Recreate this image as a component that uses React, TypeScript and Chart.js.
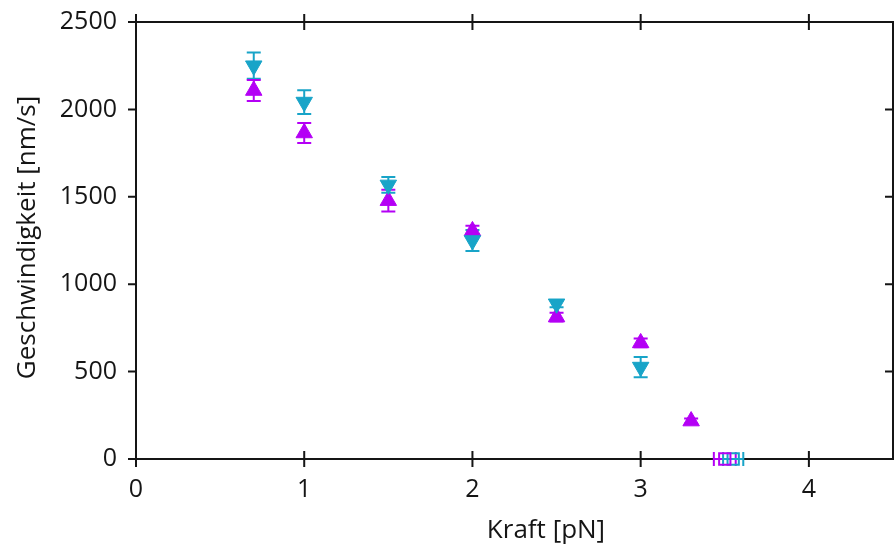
import React, { useEffect, useRef } from "react";
import { Chart, registerables } from "chart.js";

Chart.register(...registerables);

// ---- data ----
const cyanX = [0.7, 1.0, 1.5, 2.0, 2.5, 3.0];
const cyanY = [2250, 2042, 1568, 1250, 888, 526];
const cyanErr = [75, 68, 45, 60, 20, 58];

const magentaX = [0.7, 1.0, 1.5, 2.0, 2.5, 3.0, 3.3];
const magentaY = [2108, 1865, 1478, 1305, 812, 664, 217];
const magentaErr = [60, 57, 62, 30, 25, 25, 15];

const magentaStallX = [3.5];
const magentaStallY = [0];
const magentaStallXErr = [0.065];

const cyanStallX = [3.55];
const cyanStallY = [0];
const cyanStallXErr = [0.06];

const xTicks = [0, 1, 2, 3, 4];
const yTicks = [0, 500, 1000, 1500, 2000, 2500];

const xTitle = "Kraft [pN]";
const yTitle = "Geschwindigkeit [nm/s]";

const CYAN = "#18a4c8";
const MAGENTA = "#b400f5";
const AXIS = "#151515";
const FONT = "'Open Sans', 'Noto Sans', sans-serif";

const errorBarPlugin = {
  id: "errorBars",
  beforeDatasetsDraw(chart: any) {
    const ctx = chart.ctx;
    const xs = chart.scales.x;
    const ys = chart.scales.y;
    ctx.save();
    chart.data.datasets.forEach((ds: any) => {
      ctx.strokeStyle = ds.borderColor;
      ctx.lineWidth = 2;
      ds.data.forEach((p: any, i: number) => {
        if (ds.yErr) {
          const e = ds.yErr[i];
          const px = xs.getPixelForValue(p.x);
          const y1 = ys.getPixelForValue(p.y - e);
          const y2 = ys.getPixelForValue(p.y + e);
          const cw = 7;
          ctx.beginPath();
          ctx.moveTo(px, y1);
          ctx.lineTo(px, y2);
          ctx.moveTo(px - cw, y1);
          ctx.lineTo(px + cw, y1);
          ctx.moveTo(px - cw, y2);
          ctx.lineTo(px + cw, y2);
          ctx.stroke();
        }
        if (ds.xErr) {
          const e = ds.xErr[i];
          const py = ys.getPixelForValue(p.y);
          const x1 = xs.getPixelForValue(p.x - e);
          const x2 = xs.getPixelForValue(p.x + e);
          const ch = 7;
          ctx.beginPath();
          ctx.moveTo(x1, py);
          ctx.lineTo(x2, py);
          ctx.moveTo(x1, py - ch);
          ctx.lineTo(x1, py + ch);
          ctx.moveTo(x2, py - ch);
          ctx.lineTo(x2, py + ch);
          ctx.stroke();
        }
      });
    });
    ctx.restore();
  },
};

const framePlugin = {
  id: "frame",
  beforeDatasetsDraw(chart: any) {
    const { ctx, chartArea } = chart;
    const xs = chart.scales.x;
    const ys = chart.scales.y;
    const { left, right, top, bottom } = chartArea;
    ctx.save();
    ctx.strokeStyle = AXIS;
    ctx.lineWidth = 2;
    ctx.strokeRect(left, top, right - left, bottom - top);
    ctx.beginPath();
    const t = 8;
    xTicks.forEach((v) => {
      const px = xs.getPixelForValue(v);
      ctx.moveTo(px, bottom - t);
      ctx.lineTo(px, bottom + t);
      ctx.moveTo(px, top - t);
      ctx.lineTo(px, top + t);
    });
    yTicks.forEach((v) => {
      const py = ys.getPixelForValue(v);
      ctx.moveTo(left - t, py);
      ctx.lineTo(left, py);
      ctx.moveTo(right - t, py);
      ctx.lineTo(right, py);
    });
    ctx.stroke();
    ctx.restore();
  },
  afterDraw(chart: any) {
    const { ctx, chartArea } = chart;
    ctx.save();
    ctx.fillStyle = AXIS;
    ctx.font = `26px ${FONT}`;
    ctx.textAlign = "center";
    ctx.textBaseline = "alphabetic";
    ctx.fillText(xTitle, chartArea.left + 410, chartArea.bottom + 79);
    ctx.translate(chartArea.left - 101, (chartArea.top + chartArea.bottom) / 2 - 3);
    ctx.rotate(-Math.PI / 2);
    ctx.fillText(yTitle, 0, 0);
    ctx.restore();
  },
};

const zeroPad = (s: any) => {
  s.paddingLeft = 0;
  s.paddingRight = 0;
  s.paddingTop = 0;
  s.paddingBottom = 0;
};

export default function App() {
  const ref = useRef<HTMLCanvasElement | null>(null);

  useEffect(() => {
    document.body.style.margin = "0";
    const canvas = ref.current;
    if (!canvas) return;
    const chart = new Chart(canvas, {
      type: "scatter",
      data: {
        datasets: [
          {
            label: "cyan",
            data: cyanX.map((x, i) => ({ x, y: cyanY[i] })),
            yErr: cyanErr,
            pointStyle: "triangle",
            rotation: 180,
            radius: 9.5,
            backgroundColor: CYAN,
            borderColor: CYAN,
            borderWidth: 1,
            clip: false,
          } as any,
          {
            label: "magenta",
            data: magentaX.map((x, i) => ({ x, y: magentaY[i] })),
            yErr: magentaErr,
            pointStyle: "triangle",
            radius: 9.5,
            backgroundColor: MAGENTA,
            borderColor: MAGENTA,
            borderWidth: 1,
            clip: false,
          } as any,
          {
            label: "magenta stall",
            data: magentaStallX.map((x, i) => ({ x, y: magentaStallY[i] })),
            xErr: magentaStallXErr,
            pointStyle: "rect",
            radius: 8,
            backgroundColor: "rgba(0,0,0,0)",
            borderColor: MAGENTA,
            borderWidth: 2,
            clip: false,
          } as any,
          {
            label: "cyan stall",
            data: cyanStallX.map((x, i) => ({ x, y: cyanStallY[i] })),
            xErr: cyanStallXErr,
            pointStyle: "rect",
            radius: 8,
            backgroundColor: "rgba(0,0,0,0)",
            borderColor: CYAN,
            borderWidth: 2,
            clip: false,
          } as any,
        ],
      },
      options: {
        animation: false,
        responsive: false,
        maintainAspectRatio: false,
        layout: { autoPadding: false, padding: { top: 22, right: 3, left: 0, bottom: 0 } },
        plugins: {
          legend: { display: false },
          tooltip: { enabled: false },
        },
        scales: {
          x: {
            type: "linear",
            min: 0,
            max: 4.5,
            grid: { display: false, drawTicks: false },
            border: { display: false },
            afterBuildTicks: (s: any) => {
              s.ticks = xTicks.map((v) => ({ value: v }));
            },
            afterFit: (s: any) => {
              s.height = 88;
              zeroPad(s);
            },
            ticks: {
              padding: 16,
              color: AXIS,
              font: { family: FONT, size: 25 },
              callback: (v: any) => String(v),
            },
          },
          y: {
            type: "linear",
            min: 0,
            max: 2500,
            grid: { display: false, drawTicks: false },
            border: { display: false },
            afterBuildTicks: (s: any) => {
              s.ticks = yTicks.map((v) => ({ value: v }));
            },
            afterFit: (s: any) => {
              s.width = 136;
              zeroPad(s);
            },
            ticks: {
              padding: 19,
              color: AXIS,
              font: { family: FONT, size: 25 },
              callback: (v: any) => String(v),
            },
          },
        },
      },
      plugins: [framePlugin, errorBarPlugin],
    } as any);
    return () => chart.destroy();
  }, []);

  return (
    <div style={{ position: "absolute", left: 0, top: 0, width: 896, height: 547, background: "#fff" }}>
      <canvas ref={ref} width={896} height={547} style={{ display: "block", width: 896, height: 547 }} />
    </div>
  );
}
